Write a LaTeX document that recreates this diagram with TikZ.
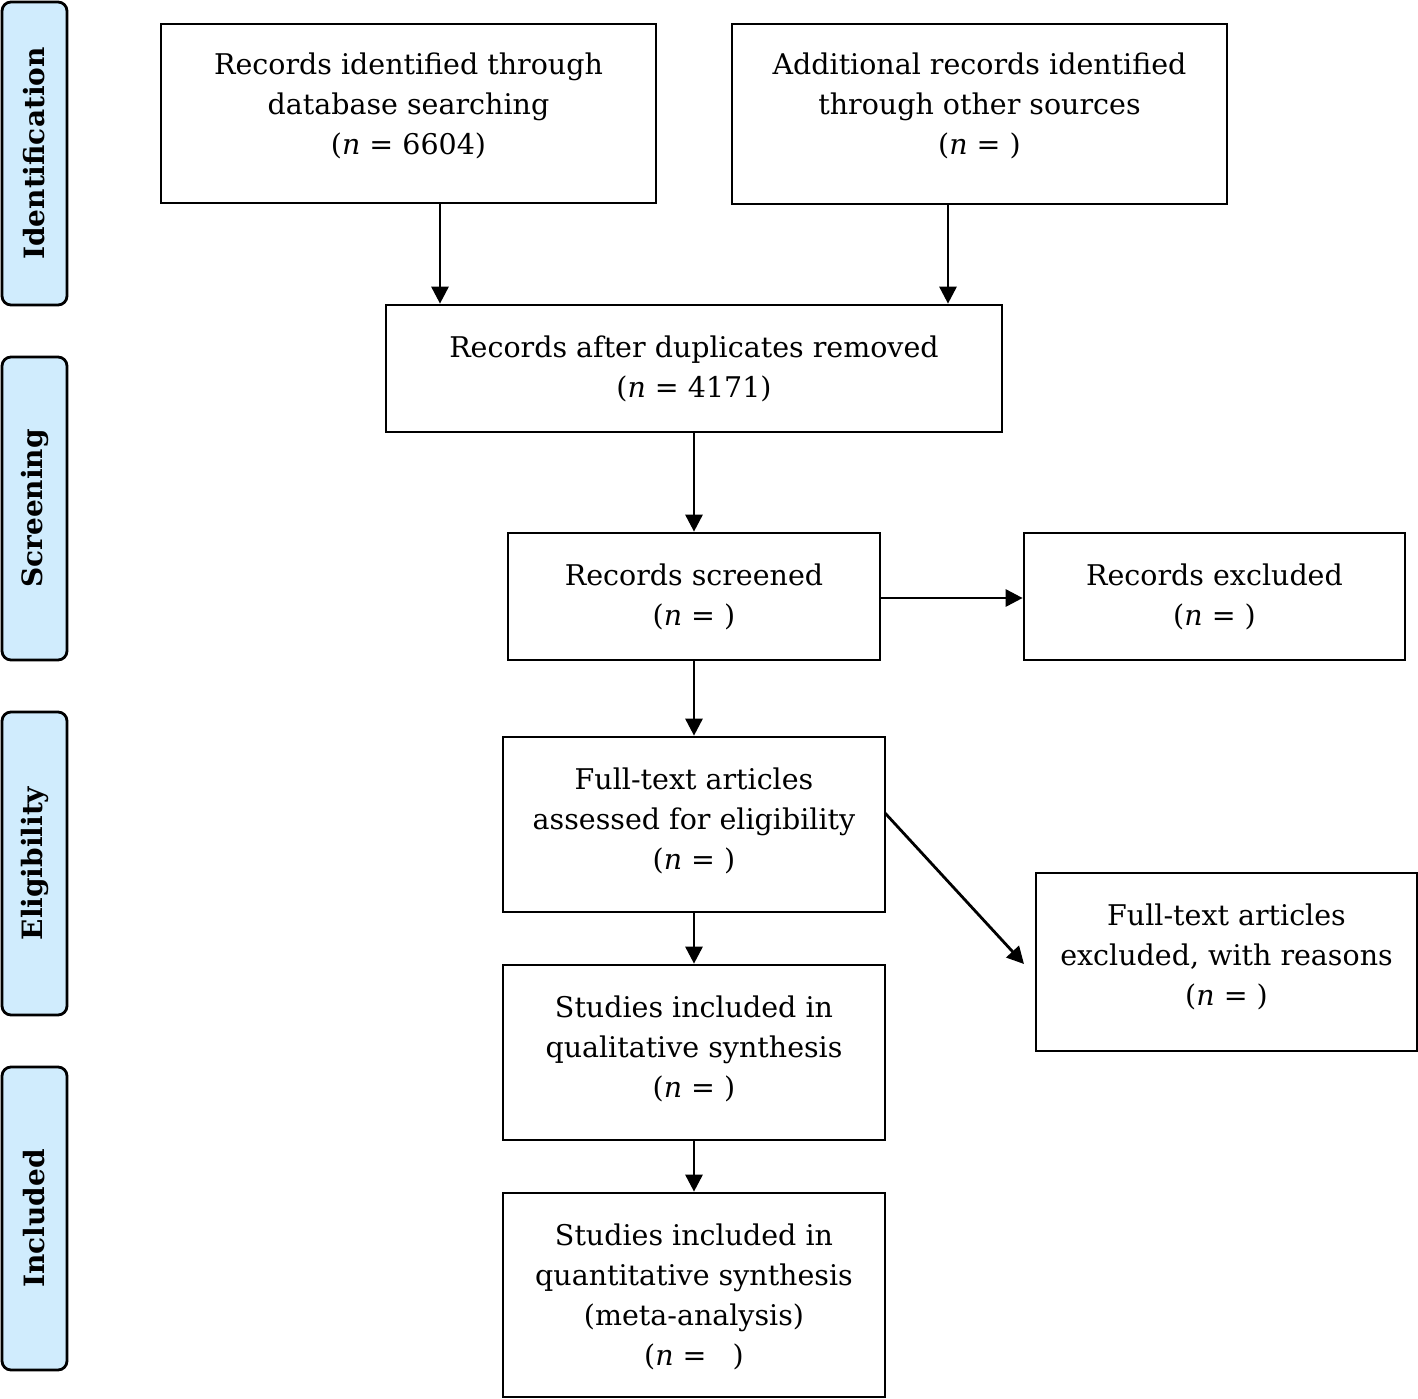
\documentclass[tikz,border=0pt]{standalone}
\usepackage{fontspec}
\setmainfont{DejaVu Serif}
\usetikzlibrary{arrows.meta}
\definecolor{sidefill}{RGB}{208,236,253}
\begin{document}
\begin{tikzpicture}[x=1pt,y=-1pt,
  box/.style={draw=black,line width=2.7pt,rectangle,inner sep=0pt},
  txt/.style={align=center,inner sep=0pt,font=\fontsize{28.5}{40}\selectfont},
  side/.style={draw=black,line width=2.8pt,fill=sidefill,rounded corners=9pt,
    minimum width=303pt,minimum height=65pt,rotate=90,inner sep=0pt,
    font=\fontsize{28}{34}\selectfont\bfseries},
  arr/.style={line width=2.8pt,-{Triangle[length=17pt,width=17pt]}}]
\useasboundingbox (0,0) rectangle (1418,1398);
% side labels
\node[side] (sid) at (34.5,153.5) {Identification};
\node[side] (ssc) at (34.5,508.5) {Screening};
\node[side] (sel) at (34.5,863.5) {Eligibility};
\node[side] (sin) at (34.5,1218.5) {Included};
% boxes
\node[box,minimum width=495pt,minimum height=179pt] (b1) at (408.5,113.5) {};
\node[box,minimum width=495pt,minimum height=180pt] (b2) at (979.5,114) {};
\node[box,minimum width=616pt,minimum height=127pt] (b3) at (694,368.5) {};
\node[box,minimum width=372pt,minimum height=127pt] (b4) at (694,596.5) {};
\node[box,minimum width=381pt,minimum height=127pt] (b5) at (1214.5,596.5) {};
\node[box,minimum width=382pt,minimum height=175pt] (b6) at (694,824.5) {};
\node[box,minimum width=381pt,minimum height=178pt] (b7) at (1226.5,962) {};
\node[box,minimum width=382pt,minimum height=175pt] (b8) at (694,1052.5) {};
\node[box,minimum width=382pt,minimum height=204pt] (b9) at (694,1295) {};
% texts
\node[txt] (t1) at ([yshift=7.5pt]b1.center)
  {Records identified through\\database searching\\(\textit{n} = 6604)};
\node[txt] (t2) at ([yshift=8pt]b2.center)
  {Additional records identified\\through other sources\\(\textit{n} = )};
\node[txt] (t3) at (b3.center)
  {Records after duplicates removed\\(\textit{n} = 4171)};
\node[txt] (t4) at (b4.center) {Records screened\\(\textit{n} = )};
\node[txt] (t5) at (b5.center) {Records excluded\\(\textit{n} = )};
\node[txt] (t6) at ([yshift=3.5pt]b6.center)
  {Full-text articles\\assessed for eligibility\\(\textit{n} = )};
\node[txt] (t7) at ([yshift=5.5pt]b7.center)
  {Full-text articles\\excluded, with reasons\\(\textit{n} = )};
\node[txt] (t8) at ([yshift=3.5pt]b8.center)
  {Studies included in\\qualitative synthesis\\(\textit{n} = )};
\node[txt] (t9) at ([yshift=-2pt]b9.center)
  {Studies included in\\quantitative synthesis\\(meta-analysis)\\(\textit{n} = \hspace{0.6em})};
% connectors
\coordinate (c1) at (440,0);
\coordinate (c2) at (948,0);
\coordinate (c3) at (694,0);
\coordinate (c4) at (0,598);
\coordinate (d1) at (885,813);
\coordinate (d2) at (1024,964);
\draw[arr] (b1.south -| c1) -- (b3.north -| c1);
\draw[arr] (b2.south -| c2) -- (b3.north -| c2);
\draw[arr] (b3.south -| c3) -- (b4.north -| c3);
\draw[arr] (b4.east |- c4) -- (b5.west |- c4);
\draw[arr] (b4.south) -- (b6.north);
\draw[arr] (d1) -- (d2);
\draw[arr] (b6.south) -- (b8.north);
\draw[arr] (b8.south) -- (b9.north);
\end{tikzpicture}
\end{document}
